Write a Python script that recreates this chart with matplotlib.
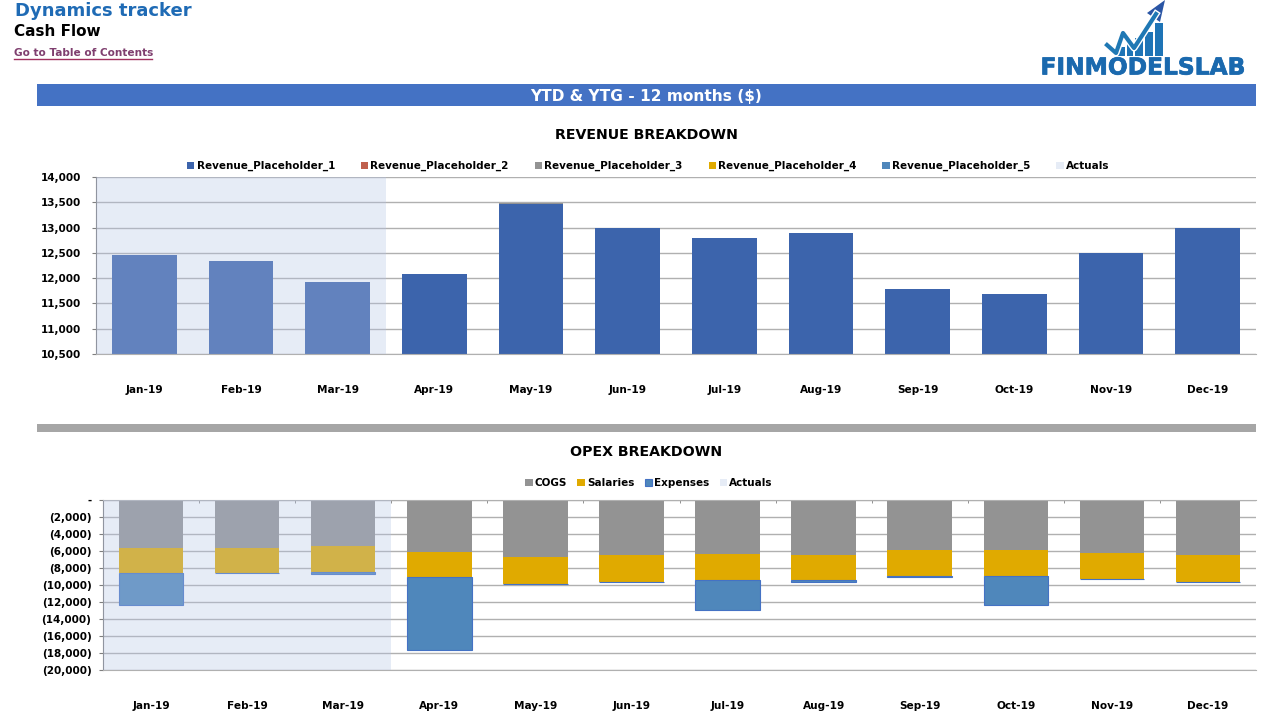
import numpy as np
import matplotlib
matplotlib.use('Agg')
import matplotlib.pyplot as plt
import matplotlib.patheffects as pe
from matplotlib.patches import Rectangle, Polygon
from matplotlib.ticker import FuncFormatter

plt.rcParams['font.family'] = ['DejaVu Sans']
plt.rcParams['font.weight'] = 'bold'

months = ['Jan-19', 'Feb-19', 'Mar-19', 'Apr-19', 'May-19', 'Jun-19',
          'Jul-19', 'Aug-19', 'Sep-19', 'Oct-19', 'Nov-19', 'Dec-19']

revenue_1 = [12450, 12340, 11920, 12080, 13470, 13000, 12790, 12890, 11790, 11690, 12490, 13000]
revenue_2 = [0, 0, 0, 0, 0, 0, 0, 0, 0, 0, 0, 0]
revenue_3 = [0, 0, 0, 0, 20, 0, 0, 0, 0, 0, 0, 0]
revenue_4 = [0, 0, 0, 0, 0, 0, 0, 0, 0, 0, 0, 0]
revenue_5 = [0, 0, 0, 0, 0, 0, 0, 0, 0, 0, 0, 0]
revenue_names = ['Revenue_Placeholder_1', 'Revenue_Placeholder_2', 'Revenue_Placeholder_3',
                 'Revenue_Placeholder_4', 'Revenue_Placeholder_5']
revenue_colors = ['#3C64AC', '#C0604D', '#939393', '#E0AA00', '#4F87BB']

cogs = [-5650, -5610, -5410, -6080, -6740, -6470, -6350, -6470, -5920, -5920, -6240, -6470]
salaries = [-2980, -2990, -3060, -3020, -3110, -3140, -3100, -2980, -3060, -2980, -3090, -3140]
expenses = [-3720, 0, -200, -8510, 0, 0, -3530, -160, -80, -3490, 0, 0]
opex_names = ['COGS', 'Salaries', 'Expenses']
opex_colors = ['#939393', '#E0AA00', '#4F87BB']

actual_months = [0, 1, 2]
actual_color = '#B4C4E6'
actual_alpha = 0.32
grid_color = '#B0B0B0'
W, H = 1269, 724


def add_axes_px(left, top, right, bottom):
    return fig.add_axes([left / W, 1 - bottom / H, (right - left) / W, (bottom - top) / H])


def style_axes(ax, ymin, ymax, step, ypad):
    ax.set_xlim(-0.5, 11.5)
    ax.set_ylim(ymin, ymax)
    ax.set_yticks(np.arange(ymin, ymax + 1, step))
    ax.set_xticks(range(12))
    ax.set_xticklabels(months, va='baseline')
    ax.grid(axis='y', color=grid_color, lw=1)
    ax.set_axisbelow(True)
    for s in ['top', 'right']:
        ax.spines[s].set_visible(False)
    ax.spines['left'].set_color('#7F7F7F')
    ax.spines['bottom'].set_color(grid_color)
    ax.tick_params(axis='x', which='major', length=0, pad=28, labelsize=7.6)
    ax.tick_params(axis='y', length=3, color='#7F7F7F', pad=ypad, labelsize=7.5)


fig = plt.figure(figsize=(W / 100, H / 100), dpi=100)

# page furniture in pixel coordinates
bg = fig.add_axes([0, 0, 1, 1], zorder=0)
bg.set_xlim(0, W)
bg.set_ylim(H, 0)
bg.axis('off')
bg.add_patch(Rectangle((37, 84), 1219, 22, color='#4472C4', lw=0))
bg.add_patch(Rectangle((37, 424), 1219, 8, color='#A6A6A6', lw=0))
bg.text(646.5, 96, 'YTD & YTG - 12 months ($)', color='white', fontsize=11.1, ha='center', va='center')
bg.text(15, 11, 'Dynamics tracker', color='#1F6BB5', fontsize=13, va='center')
bg.text(14, 32, 'Cash Flow', color='black', fontsize=11, va='center')
bg.text(14, 53, 'Go to Table of Contents', color='#7F3F6F', fontsize=7.6, va='center')
bg.plot([14, 152], [58.5, 58.5], color='#A0305F', lw=1)
bg.text(646, 135, 'REVENUE BREAKDOWN', color='black', fontsize=10.2, ha='center', va='center')
bg.text(646, 452, 'OPEX BREAKDOWN', color='black', fontsize=10.2, ha='center', va='center')

# logo
bg.text(1143, 68, 'FINMODELSLAB', color='#1A69AE', fontsize=16.8, ha='center', va='center',
        path_effects=[pe.withStroke(linewidth=0.5, foreground='#1A69AE')])
for x0, x1, top in [(1118, 1125, 47), (1127, 1133, 43), (1135, 1143, 38), (1145, 1153, 32), (1155, 1163, 23)]:
    bg.add_patch(Rectangle((x0, top), x1 - x0, 56 - top, color='#1E74B6', lw=0))
bg.plot([1107, 1116, 1123, 1134, 1156], [45, 53, 33, 48, 14], color='white', lw=5)
bg.plot([1107, 1116, 1123, 1134, 1156], [45, 53, 33, 48, 14], color='#1F78B4', lw=3)
bg.add_patch(Polygon([[1165, 0], [1147, 13], [1160, 22]], color='#2A55A5', lw=0))

# revenue chart
ax1 = add_axes_px(96, 177, 1256, 354)
ax1.patch.set_visible(False)
style_axes(ax1, 10500, 14000, 500, 8)
ax1.yaxis.set_major_formatter(FuncFormatter(lambda v, p: f'{v:,.0f}'))
bottom = np.zeros(12)
for vals, name, col in zip([revenue_1, revenue_2, revenue_3, revenue_4, revenue_5],
                           revenue_names, revenue_colors):
    ax1.bar(range(12), vals, bottom=bottom, width=0.672, color=col, label=name, zorder=2)
    bottom += np.array(vals)
ax1.bar(actual_months, [14000] * 3, width=1, color=actual_color, alpha=actual_alpha,
        label='Actuals', zorder=3, lw=0)
ax1.legend(loc='center', bbox_to_anchor=(0.476, 1.062), ncol=6, frameon=False, fontsize=7.5,
           handlelength=0.7, handleheight=0.7, handletextpad=0.2, columnspacing=2.5)

# opex chart
ax2 = add_axes_px(103, 500, 1256, 670)
ax2.patch.set_visible(False)
style_axes(ax2, -20000, 0, 2000, 5.3)
ax2.yaxis.set_major_formatter(FuncFormatter(lambda v, p: '-' if v == 0 else f'({-v:,.0f})'))
ax2.set_xticks(np.arange(0.5, 11), minor=True)
ax2.tick_params(axis='x', which='minor', length=2.5, direction='in', top=True, bottom=False, color='#7F7F7F')
ax2.spines['top'].set_visible(True)
ax2.spines['top'].set_color(grid_color)
bottom = np.zeros(12)
for vals, name, col in zip([cogs, salaries], opex_names[:2], opex_colors[:2]):
    ax2.bar(range(12), vals, bottom=bottom, width=0.672, color=col, label=name, zorder=2)
    bottom += np.array(vals)
ax2.bar(range(12), expenses, bottom=bottom, width=0.672, color=opex_colors[2], label=opex_names[2],
        edgecolor='#4472C4', lw=0.8, zorder=2)
ax2.bar(actual_months, [-20000] * 3, width=1, color=actual_color, alpha=actual_alpha,
        label='Actuals', zorder=3, lw=0)
ax2.legend(loc='center', bbox_to_anchor=(0.4735, 1.1), ncol=4, frameon=False, fontsize=7.5,
           handlelength=0.7, handleheight=0.7, handletextpad=0.2, columnspacing=1.0)

fig.savefig('out.png', dpi=100)
